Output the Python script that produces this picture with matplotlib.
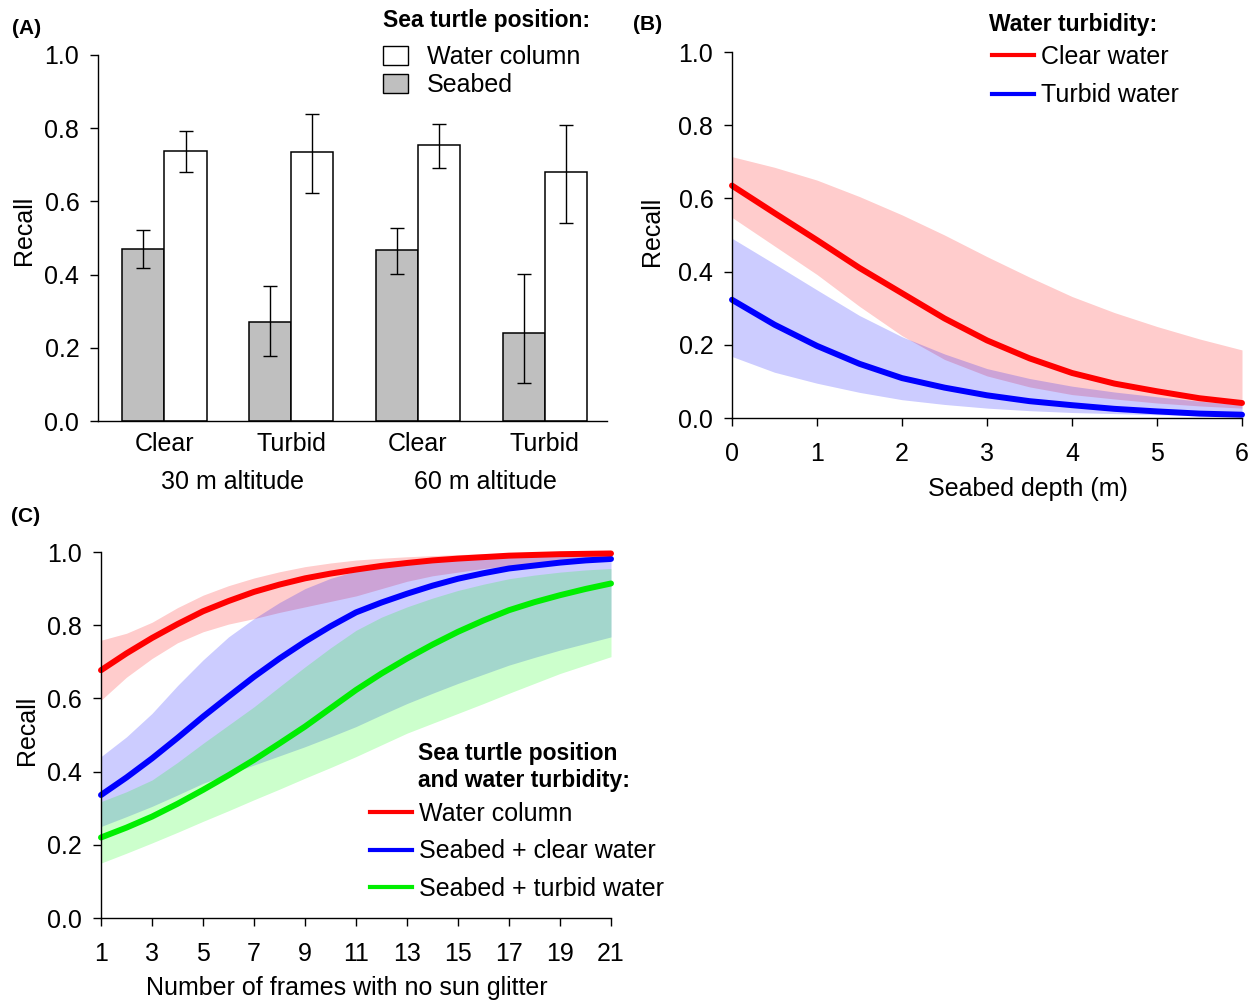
import matplotlib
matplotlib.use("Agg")
import matplotlib.pyplot as plt
from matplotlib.lines import Line2D
from matplotlib.patches import Patch
from matplotlib.transforms import blended_transform_factory

plt.rcParams['font.family'] = ['Liberation Sans', 'DejaVu Sans']

# ---------------- panel A: recall by position / turbidity / altitude ----------------
conditions = ["Clear", "Turbid", "Clear", "Turbid"]
altitudes = ["30 m altitude", "60 m altitude"]
seabed_mean = [0.469, 0.270, 0.466, 0.240]
seabed_low = [0.419, 0.177, 0.402, 0.104]
seabed_high = [0.522, 0.370, 0.527, 0.402]
column_mean = [0.738, 0.735, 0.755, 0.681]
column_low = [0.680, 0.623, 0.692, 0.540]
column_high = [0.791, 0.838, 0.812, 0.809]

# ---------------- panel B: recall vs seabed depth ----------------
depth = [0, 0.5, 1, 1.5, 2, 2.5, 3, 3.5, 4, 4.5, 5, 5.5, 6]
clear_fit = [0.635, 0.560, 0.486, 0.410, 0.341, 0.272, 0.212, 0.163, 0.123, 0.094, 0.073, 0.054, 0.041]
clear_high = [0.714, 0.685, 0.650, 0.605, 0.555, 0.500, 0.441, 0.385, 0.332, 0.288, 0.250, 0.216, 0.186]
clear_low = [0.548, 0.470, 0.392, 0.305, 0.225, 0.160, 0.115, 0.085, 0.064, 0.052, 0.041, 0.033, 0.027]
turbid_fit = [0.323, 0.255, 0.197, 0.148, 0.109, 0.083, 0.062, 0.046, 0.035, 0.025, 0.018, 0.012, 0.009]
turbid_high = [0.491, 0.421, 0.350, 0.280, 0.222, 0.175, 0.135, 0.108, 0.087, 0.071, 0.058, 0.046, 0.036]
turbid_low = [0.168, 0.125, 0.095, 0.070, 0.050, 0.037, 0.027, 0.020, 0.015, 0.012, 0.009, 0.007, 0.005]

# ---------------- panel C: recall vs frames without sun glitter ----------------
frames = list(range(1, 22))
wc_fit = [0.677, 0.723, 0.765, 0.803, 0.838, 0.866, 0.891, 0.911, 0.928, 0.941, 0.952,
          0.962, 0.970, 0.977, 0.982, 0.986, 0.990, 0.992, 0.994, 0.995, 0.996]
wc_high = [0.759, 0.778, 0.808, 0.848, 0.882, 0.908, 0.929, 0.946, 0.960, 0.970, 0.978,
           0.983, 0.987, 0.990, 0.993, 0.995, 0.996, 0.997, 0.998, 0.998, 0.999]
wc_low = [0.595, 0.658, 0.709, 0.752, 0.782, 0.803, 0.818, 0.835, 0.850, 0.865, 0.880,
          0.900, 0.920, 0.935, 0.945, 0.955, 0.962, 0.970, 0.975, 0.980, 0.985]
sc_fit = [0.336, 0.384, 0.436, 0.492, 0.550, 0.605, 0.659, 0.709, 0.755, 0.797, 0.835,
          0.862, 0.886, 0.908, 0.927, 0.942, 0.955, 0.963, 0.971, 0.977, 0.981]
sc_high = [0.441, 0.495, 0.559, 0.635, 0.705, 0.768, 0.818, 0.862, 0.900, 0.928, 0.948,
           0.961, 0.970, 0.976, 0.980, 0.985, 0.988, 0.991, 0.993, 0.995, 0.996]
sc_low = [0.250, 0.277, 0.305, 0.336, 0.368, 0.393, 0.418, 0.443, 0.468, 0.495, 0.523,
          0.555, 0.586, 0.614, 0.641, 0.666, 0.691, 0.712, 0.732, 0.750, 0.768]
st_fit = [0.220, 0.247, 0.277, 0.312, 0.350, 0.390, 0.432, 0.477, 0.523, 0.573, 0.623,
          0.668, 0.709, 0.747, 0.782, 0.813, 0.841, 0.863, 0.882, 0.899, 0.914]
st_high = [0.318, 0.345, 0.377, 0.425, 0.477, 0.527, 0.577, 0.632, 0.686, 0.738, 0.786,
           0.822, 0.850, 0.874, 0.895, 0.912, 0.927, 0.937, 0.945, 0.951, 0.955]
st_low = [0.150, 0.177, 0.205, 0.234, 0.264, 0.293, 0.323, 0.352, 0.382, 0.411, 0.441,
          0.473, 0.505, 0.532, 0.559, 0.586, 0.614, 0.641, 0.668, 0.691, 0.714]

W, H = 1257, 1001
fig = plt.figure(figsize=(W / 100, H / 100), dpi=100)


def px_axes(left, right, top, bottom):
    # place an axes box using pixel edges measured from the top-left corner
    return fig.add_axes([left / W, 1 - bottom / H, (right - left) / W, (bottom - top) / H])


def style_axes(ax):
    for side in ("top", "right"):
        ax.spines[side].set_visible(False)
    for side in ("left", "bottom"):
        ax.spines[side].set_linewidth(1.0)
    ax.tick_params(direction="out", length=5.5, width=1.0, labelsize=18, pad=8)
    ax.set_ylim(0, 1)
    ax.set_yticks([0, 0.2, 0.4, 0.6, 0.8, 1.0])
    ax.set_yticklabels([f"{v:.1f}" for v in [0, 0.2, 0.4, 0.6, 0.8, 1.0]])
    ax.spines["left"].set_bounds(0, 1)
    ax.set_ylabel("Recall", fontsize=18)


# ---- A ----
axA = px_axes(98, 607, 55, 421)
style_axes(axA)
gray_x = [1.5 + 3 * i for i in range(4)]
white_x = [2.5 + 3 * i for i in range(4)]
axA.bar(gray_x, seabed_mean, width=1, color="#bfbfbf", edgecolor="black", linewidth=1.1)
axA.bar(white_x, column_mean, width=1, color="white", edgecolor="black", linewidth=1.1)
axA.errorbar(gray_x, seabed_mean,
             yerr=[[m - l for m, l in zip(seabed_mean, seabed_low)],
                   [h - m for m, h in zip(seabed_mean, seabed_high)]],
             fmt="none", ecolor="black", elinewidth=1.0, capsize=5, capthick=1.0)
axA.errorbar(white_x, column_mean,
             yerr=[[m - l for m, l in zip(column_mean, column_low)],
                   [h - m for m, h in zip(column_mean, column_high)]],
             fmt="none", ecolor="black", elinewidth=1.0, capsize=5, capthick=1.0)
axA.set_xlim(0.43, 12.47)
axA.set_xticks([2, 5, 8, 11], conditions)
axA.tick_params(axis="x", length=0, pad=8)
trans = blended_transform_factory(axA.transData, fig.transFigure)
for xc, lab in zip([3.5, 9.5], altitudes):
    axA.text(xc + 0.1, 1 - 482 / H, lab, transform=trans, ha="center", va="center", fontsize=18)
axA.yaxis.set_label_coords(-0.122, 0.52)

axA.legend([Patch(facecolor="white", edgecolor="black", linewidth=1.0),
            Patch(facecolor="#bfbfbf", edgecolor="black", linewidth=1.0)],
           ["Water column", "Seabed"], loc="upper left",
           bbox_to_anchor=(383 / W, 1 - 45 / H), bbox_transform=fig.transFigure,
           frameon=False, borderpad=0, borderaxespad=0, handlelength=1.0, handleheight=0.8,
           handletextpad=0.75, labelspacing=0.16, fontsize=18)
fig.text(383 / W, 1 - 21 / H, "Sea turtle position:", fontsize=16.5, fontweight="bold",
         ha="left", va="center")

# ---- B ----
axB = px_axes(732, 1242, 52, 418)
style_axes(axB)
axB.fill_between(depth, clear_low, clear_high, color="red", alpha=0.2, linewidth=0)
axB.fill_between(depth, turbid_low, turbid_high, color="blue", alpha=0.2, linewidth=0)
axB.plot(depth, clear_fit, color="red", lw=4.3, solid_capstyle="round", clip_on=False)
axB.plot(depth, turbid_fit, color="blue", lw=4.3, solid_capstyle="round", clip_on=False)
axB.set_xlim(0, 6)
axB.set_xticks(range(0, 7))
axB.spines["bottom"].set_bounds(0, 6)
axB.tick_params(axis="x", pad=11.5)
axB.set_xlabel("Seabed depth (m)", fontsize=18)
axB.xaxis.set_label_coords(0.58, -0.161)
axB.yaxis.set_label_coords(-0.133, 0.511)
axB.legend([Line2D([], [], color="red", lw=3), Line2D([], [], color="blue", lw=3)],
           ["Clear water", "Turbid water"], loc="upper left",
           bbox_to_anchor=(992 / W, 1 - 44.5 / H), bbox_transform=fig.transFigure,
           frameon=False, borderpad=0, borderaxespad=0, handlelength=1.68,
           handletextpad=0.28, labelspacing=0.6, fontsize=18)
fig.text(989 / W, 1 - 25 / H, "Water turbidity:", fontsize=16.5, fontweight="bold",
         ha="left", va="center")

# ---- C ----
axC = px_axes(101, 611, 552, 918)
style_axes(axC)
axC.fill_between(frames, wc_low, wc_high, color="red", alpha=0.2, linewidth=0)
axC.fill_between(frames, sc_low, sc_high, color="blue", alpha=0.2, linewidth=0)
axC.fill_between(frames, st_low, st_high, color="#00ff00", alpha=0.2, linewidth=0)
axC.plot(frames, st_fit, color="#00ee00", lw=4.3, solid_capstyle="round", clip_on=False)
axC.plot(frames, sc_fit, color="blue", lw=4.3, solid_capstyle="round", clip_on=False)
axC.plot(frames, wc_fit, color="red", lw=4.3, solid_capstyle="round", clip_on=False)
axC.set_xlim(1, 21)
axC.set_xticks(range(1, 22, 2))
axC.spines["bottom"].set_bounds(1, 21)
axC.tick_params(axis="x", pad=11.5)
axC.set_xlabel("Number of frames with no sun glitter", fontsize=18)
axC.xaxis.set_label_coords(0.482, -0.159)
axC.yaxis.set_label_coords(-0.122, 0.514)
axC.legend([Line2D([], [], color="red", lw=3), Line2D([], [], color="blue", lw=3),
            Line2D([], [], color="#00ee00", lw=3)],
           ["Water column", "Seabed + clear water", "Seabed + turbid water"], loc="upper left",
           bbox_to_anchor=(370 / W, 1 - 802 / H), bbox_transform=fig.transFigure,
           frameon=False, borderpad=0, borderaxespad=0, handlelength=1.68,
           handletextpad=0.28, labelspacing=0.53, fontsize=18)
fig.text(418 / W, 1 - 767 / H, "Sea turtle position\nand water turbidity:", fontsize=16.5,
         fontweight="bold", ha="left", va="center", linespacing=1.2)

# panel letters
for lab, x, y in [("(A)", 27, 28), ("(B)", 648, 25), ("(C)", 26, 516)]:
    fig.text(x / W, 1 - y / H, lab, fontsize=15, fontweight="bold", ha="center", va="center")

fig.savefig("out.png", dpi=100)
plt.close(fig)
